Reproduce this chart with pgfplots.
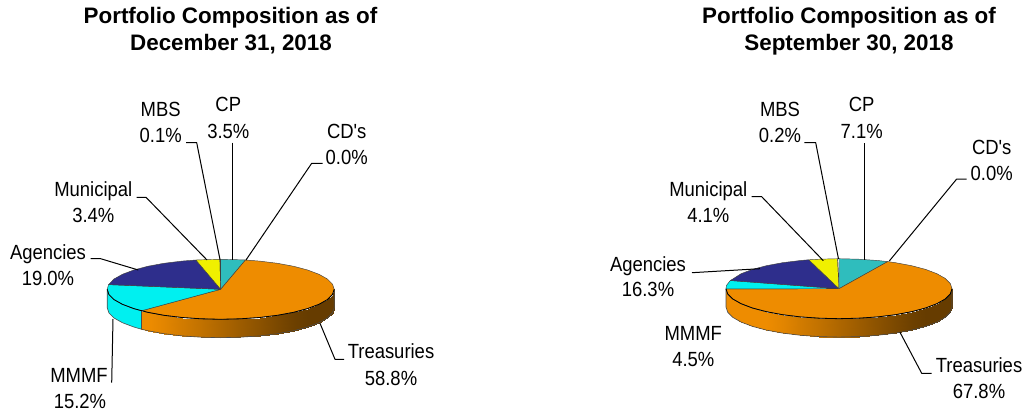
\documentclass[border=0pt]{standalone}
\usepackage{pgfplots}
\pgfplotsset{compat=1.18}
\usepackage{fontspec}
\setmainfont{Liberation Sans}
\newfontfamily\lab{Liberation Sans}[FakeStretch=0.9]
\definecolor{orng}{HTML}{EE8C00}
\definecolor{brwn}{HTML}{663C00}
\definecolor{teal2}{HTML}{2FBDBD}
\definecolor{cyan2}{HTML}{00F0F0}
\definecolor{navy2}{HTML}{2E2E8C}
\definecolor{yel2}{HTML}{F0F000}
\pgfplotsset{colormap={sidegrad}{color(0)=(orng) color(1)=(brwn)}}
\tikzset{lb/.style={font=\fontsize{20.5pt}{22pt}\selectfont\lab,inner sep=0pt,anchor=center,text height=14.7pt,text depth=0pt},
 tt/.style={font=\fontsize{22.4pt}{24pt}\selectfont\bfseries,inner sep=0pt,anchor=center,text height=16pt,text depth=0pt},
 wedge/.style={draw=black!75!white,line width=0.45pt,line join=round},
 front/.style={draw=black,line width=0.8pt,no markers,line join=round},
 leader/.style={draw=black,line width=1pt,line join=round,no markers}}
\begin{document}
\begin{tikzpicture}[x=1pt,y=1pt]
\useasboundingbox (0,0) rectangle (1026,412);
\begin{axis}[at={(0,0)},anchor=south west,scale only axis,width=1026pt,height=412pt,
 xmin=0,xmax=1026,ymin=0,ymax=412,y dir=reverse,hide axis,clip=false,
 colormap name=sidegrad,point meta min=0,point meta max=1]
% ---- left pie: side
\addplot[patch,patch type=rectangle,shader=interp,point meta=explicit] coordinates {
(141.4,310.8)[0] (147.7,312.3)[0] (147.7,330.7)[0] (141.4,329.2)[0]
(147.7,312.3)[0] (163.9,315.3)[.09] (163.9,333.7)[.09] (147.7,330.7)[0]
(163.9,315.3)[.09] (181.9,317.5)[.21] (181.9,335.9)[.21] (163.9,333.7)[.09]
(181.9,317.5)[.21] (201.0,318.8)[.33] (201.0,337.2)[.33] (181.9,335.9)[.21]
(201.0,318.8)[.33] (220.7,319.3)[.47] (220.7,337.7)[.47] (201.0,337.2)[.33]
(220.7,319.3)[.47] (240.4,318.8)[.60] (240.4,337.2)[.60] (220.7,337.7)[.47]
(240.4,318.8)[.60] (259.5,317.5)[.73] (259.5,335.9)[.73] (240.4,337.2)[.60]
(259.5,317.5)[.73] (277.5,315.3)[.85] (277.5,333.7)[.85] (259.5,335.9)[.73]
(277.5,315.3)[.85] (293.7,312.3)[.95] (293.7,330.7)[.95] (277.5,333.7)[.85]
(293.7,312.3)[.95] (307.6,308.6)[1] (307.6,327.0)[1] (293.7,330.7)[.95]
(307.6,308.6)[1] (319.0,304.3)[1] (319.0,322.7)[1] (307.6,327.0)[1]
(319.0,304.3)[1] (327.4,299.6)[1] (327.4,318.0)[1] (319.0,322.7)[1]
(327.4,299.6)[1] (332.5,294.5)[1] (332.5,312.9)[1] (327.4,318.0)[1]
(332.5,294.5)[1] (334.2,289.3)[1] (334.2,307.7)[1] (332.5,312.9)[1]
};
\addplot[fill=cyan2,draw=none] coordinates {(107.2,289.3) (108.9,294.5) (114,299.6) (122.4,304.3) (133.8,308.6) (141.4,310.8) (141.4,329.2) (133.8,327) (122.4,322.7) (114,318) (108.9,312.9) (107.2,307.7)} --cycle;
\addplot[draw=black!70!white,line width=0.6pt,no markers] coordinates {(141.4,310.8) (141.4,329.2)};
\addplot[draw=black!70!white,line width=0.6pt,no markers] coordinates {(107.2,289.3) (107.2,307.7) (108.9,312.9) (114,318) (122.4,322.7) (133.8,327) (141.4,329.2) (147.7,330.7) (163.9,333.7) (181.9,335.9) (201,337.2) (220.7,337.7) (240.4,337.2) (259.5,335.9) (277.5,333.7) (293.7,330.7) (307.6,327) (319,322.7) (327.4,318) (332.5,312.9) (334.2,307.7) (334.2,289.3)};
% ---- left pie: top
\addplot[fill=teal2,wedge] coordinates {(220.7,289.3) (220.7,259.3) (240.4,259.8) (245.5,260)} --cycle;
\addplot[fill=orng,wedge] coordinates {(220.7,289.3) (245.5,260) (259.5,261.1) (277.5,263.3) (293.7,266.3) (307.6,270) (319,274.3) (327.4,279) (332.5,284.1) (334.2,289.3) (332.5,294.5) (327.4,299.6) (319,304.3) (307.6,308.6) (293.7,312.3) (277.5,315.3) (259.5,317.5) (240.4,318.8) (220.7,319.3) (201,318.8) (181.9,317.5) (163.9,315.3) (147.7,312.3) (141.4,310.8)} --cycle;
\addplot[fill=cyan2,wedge] coordinates {(220.7,289.3) (141.4,310.8) (133.8,308.6) (122.4,304.3) (114,299.6) (108.9,294.5) (107.2,289.3) (108.6,284.6)} --cycle;
\addplot[fill=navy2,wedge] coordinates {(220.7,289.3) (108.6,284.6) (114,279) (122.4,274.3) (133.8,270) (147.7,266.3) (163.9,263.3) (181.9,261.1) (195.9,260)} --cycle;
\addplot[fill=yel2,wedge] coordinates {(220.7,289.3) (195.9,260) (201,259.8) (219.9,259.3)} --cycle;
\addplot[fill=white,wedge] coordinates {(220.7,289.3) (219.9,259.3) (220.7,259.3)} --cycle;
\addplot[front] coordinates {(107.2,289.3) (108.9,294.5) (114,299.6) (122.4,304.3) (133.8,308.6) (147.7,312.3) (163.9,315.3) (181.9,317.5) (201,318.8) (220.7,319.3) (240.4,318.8) (259.5,317.5) (277.5,315.3) (293.7,312.3) (307.6,308.6) (319,304.3) (327.4,299.6) (332.5,294.5) (334.2,289.3)};
% ---- right pie: side
\addplot[patch,patch type=rectangle,shader=interp,point meta=explicit] coordinates {
(726,288.7)[0] (727.7,293.9)[0] (727.7,312.3)[0] (726,307.1)[0]
(727.7,293.9)[0] (732.8,299)[0] (732.8,317.4)[0] (727.7,312.3)[0]
(732.8,299)[0] (741.1,303.7)[0] (741.1,322.1)[0] (732.8,317.4)[0]
(741.1,303.7)[0] (752.4,308)[0] (752.4,326.4)[0] (741.1,322.1)[0]
(752.4,308)[0] (766.4,311.7)[0] (766.4,330.1)[0] (752.4,326.4)[0]
(766.4,311.7)[0] (782.5,314.7)[.09] (782.5,333.1)[.09] (766.4,330.1)[0]
(782.5,314.7)[.09] (800.4,316.9)[.21] (800.4,335.3)[.21] (782.5,333.1)[.09]
(800.4,316.9)[.21] (819.4,318.2)[.33] (819.4,336.6)[.33] (800.4,335.3)[.21]
(819.4,318.2)[.33] (839,318.7)[.47] (839,337.1)[.47] (819.4,336.6)[.33]
(839,318.7)[.47] (858.6,318.2)[.60] (858.6,336.6)[.60] (839,337.1)[.47]
(858.6,318.2)[.60] (877.6,316.9)[.73] (877.6,335.3)[.73] (858.6,336.6)[.60]
(877.6,316.9)[.73] (895.5,314.7)[.85] (895.5,333.1)[.85] (877.6,335.3)[.73]
(895.5,314.7)[.85] (911.6,311.7)[.95] (911.6,330.1)[.95] (895.5,333.1)[.85]
(911.6,311.7)[.95] (925.6,308)[1] (925.6,326.4)[1] (911.6,330.1)[.95]
(925.6,308)[1] (936.9,303.7)[1] (936.9,322.1)[1] (925.6,326.4)[1]
(936.9,303.7)[1] (945.2,299)[1] (945.2,317.4)[1] (936.9,322.1)[1]
(945.2,299)[1] (950.3,293.9)[1] (950.3,312.3)[1] (945.2,317.4)[1]
(950.3,293.9)[1] (952,288.7)[1] (952,307.1)[1] (950.3,312.3)[1]
};
\addplot[draw=black!70!white,line width=0.6pt,no markers] coordinates {(726,288.7) (726,307.1) (727.7,312.3) (732.8,317.4) (741.1,322.1) (752.4,326.4) (766.4,330.1) (782.5,333.1) (800.4,335.3) (819.4,336.6) (839,337.1) (858.6,336.6) (877.6,335.3) (895.5,333.1) (911.6,330.1) (925.6,326.4) (936.9,322.1) (945.2,317.4) (950.3,312.3) (952,307.1) (952,288.7)};
% ---- right pie: top
\addplot[fill=teal2,wedge] coordinates {(839,288.7) (839,258.7) (858.6,259.2) (877.6,260.5) (887.7,261.6)} --cycle;
\addplot[fill=orng,wedge] coordinates {(839,288.7) (887.7,261.6) (895.5,262.7) (911.6,265.7) (925.6,269.4) (936.9,273.7) (945.2,278.4) (950.3,283.5) (952,288.7) (950.3,293.9) (945.2,299) (936.9,303.7) (925.6,308) (911.6,311.7) (895.5,314.7) (877.6,316.9) (858.6,318.2) (839,318.7) (819.4,318.2) (800.4,316.9) (782.5,314.7) (766.4,311.7) (752.4,308) (741.1,303.7) (732.8,299) (727.7,293.9) (726,288.9)} --cycle;
\addplot[fill=cyan2,wedge] coordinates {(839,288.7) (726,288.9) (726.4,285.5) (730.3,280.5)} --cycle;
\addplot[fill=navy2,wedge] coordinates {(839,288.7) (730.3,280.5) (732.8,279) (741.1,273.7) (752.4,269.4) (766.4,265.7) (782.5,262.7) (800.4,260.5) (808.8,259.8)} --cycle;
\addplot[fill=yel2,wedge] coordinates {(839,288.7) (808.8,259.8) (819.4,259.2) (837.6,258.7)} --cycle;
\addplot[fill=white,wedge] coordinates {(839,288.7) (837.6,258.7) (839,258.7)} --cycle;
\addplot[front] coordinates {(726,288.9) (727.7,293.9) (732.8,299) (741.1,303.7) (752.4,308) (766.4,311.7) (782.5,314.7) (800.4,316.9) (819.4,318.2) (839,318.7) (858.6,318.2) (877.6,316.9) (895.5,314.7) (911.6,311.7) (925.6,308) (936.9,303.7) (945.2,299) (950.3,293.9) (952,288.7)};
% ---- leaders left
\addplot[leader] coordinates {(322.7,163.3) (311.7,163.3) (246,260)};
\addplot[leader] coordinates {(232.7,142.7) (232.7,260)};
\addplot[leader] coordinates {(186,142.7) (196.7,142.7) (220,259.5)};
\addplot[leader] coordinates {(136.7,197.3) (146,197.3) (207,260)};
\addplot[leader] coordinates {(90.7,258.5) (100,258.5) (138.3,270)};
\addplot[leader] coordinates {(111.7,382.7) (113,319)};
\addplot[leader] coordinates {(344,359.3) (335,359.3) (320,323.3)};
% ---- leaders right
\addplot[leader] coordinates {(966.7,179) (956.7,179) (889.3,261)};
\addplot[leader] coordinates {(864,143.3) (864,260)};
\addplot[leader] coordinates {(804.3,142.7) (815.7,142.7) (838.5,259)};
\addplot[leader] coordinates {(751.7,196.7) (761.7,196.7) (823.3,260.7)};
\addplot[leader] coordinates {(692,272.7) (760,268.7)};
\addplot[leader] coordinates {(931.7,373.3) (921.7,373.3) (900,332.3)};
% ---- titles
\node[tt] at (axis cs:230.5,16) {Portfolio Composition as of};
\node[tt] at (axis cs:231,43) {December 31, 2018};
\node[tt] at (axis cs:849,16) {Portfolio Composition as of};
\node[tt] at (axis cs:849,43) {September 30, 2018};
% ---- left labels
\node[lb] at (axis cs:346.7,130.7) {CD's};
\node[lb] at (axis cs:346.7,156.7) {0.0\%};
\node[lb] at (axis cs:228.3,104) {CP};
\node[lb] at (axis cs:228.3,130.7) {3.5\%};
\node[lb] at (axis cs:160.7,109.3) {MBS};
\node[lb] at (axis cs:160.7,135) {0.1\%};
\node[lb] at (axis cs:93.3,189) {Municipal};
\node[lb] at (axis cs:93.3,215) {3.4\%};
\node[lb] at (axis cs:48,252) {Agencies};
\node[lb] at (axis cs:48,278) {19.0\%};
\node[lb] at (axis cs:79,375) {MMMF};
\node[lb] at (axis cs:80,401) {15.2\%};
\node[lb] at (axis cs:391,351) {Treasuries};
\node[lb] at (axis cs:391,377.7) {58.8\%};
% ---- right labels
\node[lb] at (axis cs:991.7,146.7) {CD's};
\node[lb] at (axis cs:991.7,172.7) {0.0\%};
\node[lb] at (axis cs:861.7,104) {CP};
\node[lb] at (axis cs:861.7,130.7) {7.1\%};
\node[lb] at (axis cs:780,109.3) {MBS};
\node[lb] at (axis cs:780,135) {0.2\%};
\node[lb] at (axis cs:708.3,189) {Municipal};
\node[lb] at (axis cs:708.3,215) {4.1\%};
\node[lb] at (axis cs:648,264) {Agencies};
\node[lb] at (axis cs:648,289) {16.3\%};
\node[lb] at (axis cs:693.3,333.3) {MMMF};
\node[lb] at (axis cs:693.3,359.3) {4.5\%};
\node[lb] at (axis cs:979,365) {Treasuries};
\node[lb] at (axis cs:979,390.7) {67.8\%};
\end{axis}
\end{tikzpicture}
\end{document}
